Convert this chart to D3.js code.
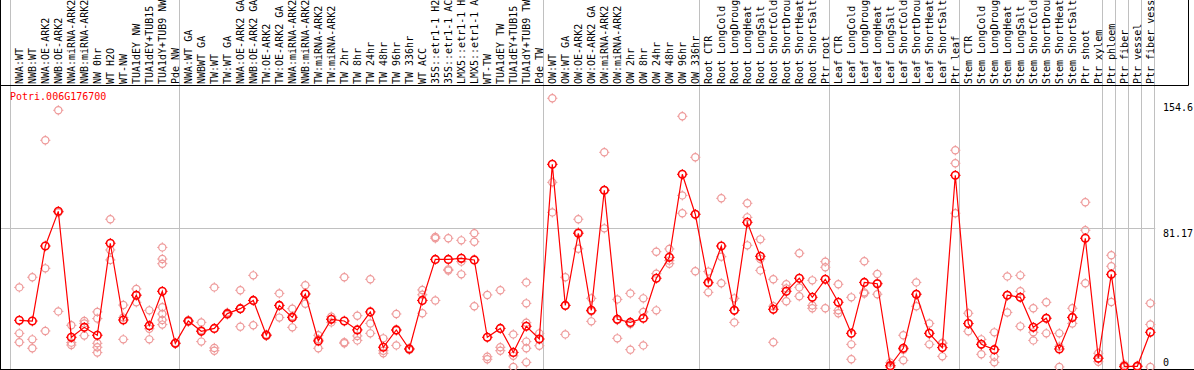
<!DOCTYPE html>
<html>
<head>
<meta charset="utf-8">
<script src="https://cdn.jsdelivr.net/npm/d3@7"></script>
<style>
  html, body { margin: 0; padding: 0; background: #fff; }
  svg { display: block; }
  text { font-family: "DejaVu Sans Mono", monospace; font-size: 10px; }
</style>
</head>
<body>
<svg id="chart" width="1194" height="370"></svg>
<script>
const title = "Potri.006G176700";

const categories = [
  "NWA:WT", "NWB:WT", "NWA:OE-ARK2", "NWB:OE-ARK2", "NWA:miRNA-ARK2", "NWB:miRNA-ARK2",
  "NW 0hr", "WT H2O", "WT-NW", "TUA1dEY NW", "TUA1dEY+TUB15 NW", "TUA1dY+TUB9 NW", "Pde NW",
  "NWA:WT GA", "NWBWT GA", "TW:WT", "TW:WT GA", "NWA:OE-ARK2 GA", "NWB:OE-ARK2 GA",
  "TW:OE-ARK2", "TW:OE-ARK2 GA", "NWA:miRNA-ARK2 GA", "NWB:miRNA-ARK2 GA", "TW:miRNA-ARK2",
  "TW:miRNA-ARK2 GA", "TW 2hr", "TW 8hr", "TW 24hr", "TW 48hr", "TW 96hr", "TW 336hr", "WT ACC",
  "35S::etr1-1 H2O", "35S::etr1-1 ACC", "LMX5::etr1-1 H2O", "LMX5::etr1-1 ACC", "WT-TW",
  "TUA1dEY TW", "TUA1dEY+TUB15 TW", "TUA1dY+TUB9 TW", "Pde TW",
  "OW:WT", "OW:WT GA", "OW:OE-ARK2", "OW:OE-ARK2 GA", "OW:miRNA-ARK2", "OW:miRNA-ARK2 GA",
  "OW 2hr", "OW 8hr", "OW 24hr", "OW 48hr", "OW 96hr", "OW 336hr",
  "Root CTR", "Root LongCold", "Root LongDrought", "Root LongHeat", "Root LongSalt",
  "Root ShortCold", "Root ShortDrought", "Root ShortHeat", "Root ShortSalt", "Ptr root",
  "Leaf CTR", "Leaf LongCold", "Leaf LongDrought", "Leaf LongHeat", "Leaf LongSalt",
  "Leaf ShortCold", "Leaf ShortDrought", "Leaf ShortHeat", "Leaf ShortSalt", "Ptr leaf",
  "Stem CTR", "Stem LongCold", "Stem LongDrought", "Stem LongHeat", "Stem LongSalt",
  "Stem ShortCold", "Stem ShortDrought", "Stem ShortHeat", "Stem ShortSalt", "Ptr shoot", "Ptr xylem",
  "Ptr phloem", "Ptr fiber", "Ptr vessel", "Ptr fiber vessel"
];

// index of the first category of each group (last value = end)
const groupStarts = [0, 13, 41, 53, 63, 73, 84, 85, 86, 87, 88];

const means = [
  27.2, 26.8, 70.5, 90.7, 17.3, 23.1, 18.5, 72.1, 27.4, 41.8, 24.1, 44.1, 13.8,
  26.8, 20.8, 22.5, 31.1, 34.0, 38.8, 18.5, 35.9, 28.9, 42.5, 15.2, 27.8, 26.8,
  21.6, 32.1, 11.5, 21.6, 10.5, 38.8, 62.7, 62.7, 63.3, 62.4, 17.3, 22.5, 8.5, 23.7, 16.3,
  118.1, 35.9, 77.9, 33.0, 103.0, 27.8, 26.0, 28.4, 51.7, 63.9, 112.3, 89.0,
  49.3, 70.5, 33.0, 84.3, 64.5, 33.6, 44.1, 51.7, 40.6, 51.1,
  37.7, 19.6, 49.3, 48.5, 0.8, 10.9, 42.4, 19.6, 11.3, 111.7,
  25.3, 13.2, 10.1, 41.8, 40.6, 23.1, 28.4, 10.5, 28.9, 75.0, 5.1,
  54.0, 0.4, 0.4, 20.2
];

const replicates = [
  [46.4, 19.6, 14.4], [52.3, 16.1, 10.9], [132.1, 57.5, 21.0], [149.6, 90.0, 32.4],
  [24.3, 14.2, 12.8], [26.8, 25.4, 18.3], [32.1, 28.2, 13.8, 11.5, 8.4], [86.1, 68.2, 62.4],
  [36.1, 28.8, 16.1], [45.5, 42.0, 37.7], [33.0, 22.3, 16.1],
  [69.7, 62.9, 60.2, 34.8, 30.9, 27.4, 24.7], [14.1, 13.8, 13.5],
  [27.2, 26.8, 26.4], [26.0, 21.5, 14.8], [46.4, 11.1, 9.5], [31.7, 31.1, 30.5],
  [44.7, 34.0, 23.5], [53.4, 38.8, 24.3], [18.9, 18.5, 18.1], [42.9, 35.9, 28.8],
  [34.0, 29.6, 23.1], [47.6, 42.9, 36.9], [18.5, 16.2, 10.9], [29.3, 27.9, 26.0],
  [52.3, 14.4, 13.8], [29.9, 18.1, 15.5], [51.1, 25.4, 19.6], [16.7, 9.5, 8.0],
  [30.9, 21.3, 12.6], [10.9, 10.5, 10.1], [44.9, 42.1, 31.3], [75.8, 75.0, 38.8],
  [75.0, 56.9, 56.2], [73.8, 61.4, 54.0], [77.9, 73.0, 35.4], [42.0, 6.0, 4.5],
  [44.7, 11.5, 9.5], [19.0, 6.5, 0], [49.3, 37.1, 25.8, 14.8, 10.9, 2.7], [19.6, 16.3, 12.4],
  [156.6, 107.6, 90.1], [52.3, 35.9, 19.0], [86.1, 78.6, 68.9], [40.0, 32.4, 26.6],
  [125.1, 103.0, 80.8], [39.4, 27.3, 16.7], [42.9, 25.0, 10.1], [40.0, 32.1, 12.6],
  [67.2, 54.4, 33.0], [68.8, 62.0, 60.2], [146.1, 100.0, 89.6], [122.2, 89.0, 55.8],
  [55.6, 48.8, 43.5], [98.3, 64.3, 48.8], [40.0, 33.0, 26.0], [95.4, 87.2, 70.9],
  [74.4, 62.9, 56.3], [51.1, 35.4, 14.4], [48.2, 45.8, 38.3], [66.3, 46.4, 41.2],
  [50.5, 35.9, 34.2], [61.4, 58.1, 34.2],
  [48.2, 33.0, 31.3], [40.6, 13.2, 4.5], [61.6, 43.5, 42.8], [54.2, 48.9, 42.4],
  [2.5, 0, 0], [18.5, 10.1, 3.9], [49.3, 42.4, 35.4], [25.4, 19.6, 13.2], [14.0, 13.8, 6.2],
  [126.3, 118.7, 89.6],
  [31.3, 25.3, 20.8], [16.1, 13.2, 7.4], [20.2, 6.0, 2.7], [52.8, 41.8, 31.8],
  [53.4, 44.1, 23.7], [34.2, 20.2, 15.5], [37.7, 28.4, 19.6], [19.6, 11.9, 0],
  [34.2, 28.9, 25.4], [96.0, 79.7, 48.8], [8.0, 5.1, 3.1],
  [65.1, 58.7, 37.9], [1.4, 0, 0], [0.8, 0.4, 0], [37.1, 24.8, 0]
];

const yTickValues = [0, 81.17, 154.6];
const yTickLabels = ["0", "81.17", "154.6"];
const yGridValues = [81.17];

// ---------------- drawing ----------------
const W = 1194, H = 370;
const headerBottom = 85.5;
const plotRight = 1155.3;
const maxLabelChars = 14;
const svg = d3.select("#chart");

const x = d3.scaleBand().domain(d3.range(categories.length)).range([11.3, plotRight]).paddingInner(0).paddingOuter(0);
const px = i => x(i) + 8;
const y = d3.scaleLinear().domain([0, 154.6]).range([367, 101.7]);

svg.append("rect").attr("width", W).attr("height", H).attr("fill", "#fff");

// group separator lines
svg.append("g").selectAll("line").data(groupStarts).join("line")
  .attr("x1", k => Math.round(k < categories.length ? x(k) : plotRight) - 0.5)
  .attr("x2", k => Math.round(k < categories.length ? x(k) : plotRight) - 0.5)
  .attr("y1", 0).attr("y2", H)
  .attr("stroke", "#c0c0c0").attr("stroke-width", 1);

// horizontal grid
svg.append("g").selectAll("line").data(yGridValues).join("line")
  .attr("x1", 0).attr("x2", plotRight)
  .attr("y1", d => Math.round(y(d)) + 0.5).attr("y2", d => Math.round(y(d)) + 0.5)
  .attr("stroke", "#c0c0c0").attr("stroke-width", 1);

// borders
svg.append("line").attr("x1", 0.5).attr("x2", 0.5).attr("y1", 0).attr("y2", H).attr("stroke", "#000");
svg.append("line").attr("x1", 0).attr("x2", 1188.5).attr("y1", headerBottom).attr("y2", headerBottom).attr("stroke", "#000");
svg.append("line").attr("x1", 1188.5).attr("x2", 1188.5).attr("y1", 0).attr("y2", headerBottom).attr("stroke", "#000");
svg.append("line").attr("x1", 0).attr("x2", W).attr("y1", 369.5).attr("y2", 369.5).attr("stroke", "#000");

// category labels (shown truncated, as in the header of the reference)
svg.append("g").selectAll("text").data(categories).join("text")
  .attr("transform", (d, i) => `translate(${px(i) + 3.5},84) rotate(-90)`)
  .attr("fill", "#000")
  .text(d => d.slice(0, maxLabelChars).trimEnd());

// y tick labels
svg.append("g").selectAll("text").data(yTickValues).join("text")
  .attr("x", 1163)
  .attr("y", (d, i) => d === 0 ? y(d) - 1.5 : y(d) + 9)
  .attr("fill", "#000")
  .text((d, i) => yTickLabels[i]);

// title
svg.append("text").attr("x", 10).attr("y", 100).attr("fill", "#ff0000").text(title);

// marker helper
function marker(g, cx, cy, color, sw, r) {
  g.append("circle").attr("cx", cx).attr("cy", cy).attr("r", r)
    .attr("fill", "none").attr("stroke", color).attr("stroke-width", sw);
  const t = r + 1.5;
  const segs = [[0, -r, 0, -t], [0, r, 0, t], [-r, 0, -t, 0], [r, 0, t, 0]];
  segs.forEach(s => g.append("line")
    .attr("x1", cx + s[0]).attr("y1", cy + s[1]).attr("x2", cx + s[2]).attr("y2", cy + s[3])
    .attr("stroke", color).attr("stroke-width", 1));
}

// replicates
const repG = svg.append("g");
replicates.forEach((arr, i) => arr.forEach(v => marker(repG, px(i), y(v), "#ee9999", 1.2, 3.6)));

// mean line
const line = d3.line().x((d, i) => px(i)).y(d => y(d));
svg.append("path").datum(means).attr("d", line)
  .attr("fill", "none").attr("stroke", "#ff0000").attr("stroke-width", 1.2);

// mean markers
const meanG = svg.append("g");
means.forEach((v, i) => marker(meanG, px(i), y(v), "#ff0000", 1.6, 3.8));
</script>
</body>
</html>
